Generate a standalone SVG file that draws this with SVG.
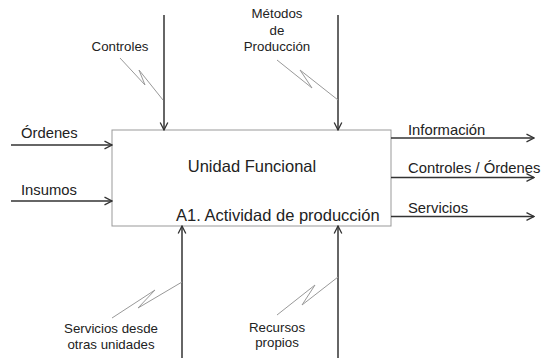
<svg xmlns="http://www.w3.org/2000/svg" width="545" height="361" viewBox="0 0 545 361">
<defs>
<marker id="arr" viewBox="0 0 10 10" refX="9" refY="5" markerWidth="10" markerHeight="10" markerUnits="userSpaceOnUse" orient="auto">
<path d="M1.5,1.2 L9,5 L1.5,8.8" fill="none" stroke="#333" stroke-width="1.3"/>
</marker>
</defs>
<style>
text{font-family:"Liberation Sans",Arial,sans-serif;fill:#222}
.lbl{font-size:13.3px}
.lbr{font-size:14.8px}
.big{font-size:16.5px}
.ar{stroke:#333;stroke-width:1.5;fill:none;marker-end:url(#arr)}
.sq{stroke:#999;stroke-width:1;fill:none}
</style>
<rect width="545" height="361" fill="#fff"/>
<g id="unidad">
<rect x="112" y="130" width="279" height="96" fill="#fff" stroke="#999" stroke-width="1"/>
<text class="big" x="252" y="172" text-anchor="middle">Unidad Funcional</text>
<text class="big" x="176" y="220.5">A1. Actividad de producción</text>
</g>
<g id="connectors">
<line class="ar" x1="164" y1="15" x2="164" y2="130"/>
<line class="ar" x1="338" y1="15" x2="338" y2="130"/>
<line class="ar" x1="11" y1="145" x2="112" y2="145"/>
<line class="ar" x1="11" y1="201" x2="112" y2="201"/>
<line class="ar" x1="391" y1="138" x2="534" y2="138"/>
<line class="ar" x1="391" y1="177.5" x2="534" y2="177.5"/>
<line class="ar" x1="391" y1="216.5" x2="534" y2="216.5"/>
<line class="ar" x1="182" y1="358" x2="182" y2="226"/>
<line class="ar" x1="338" y1="358" x2="338" y2="226"/>
<path class="sq" d="M120,58 L145,85 L139,70 L163,100"/>
<path class="sq" d="M277,60 L312,88 L300,70 L338,100"/>
<path class="sq" d="M112,318 L155,290 L138,308 L182,282"/>
<path class="sq" d="M277,315 L315,285 L302,305 L338,277"/>
</g>
<g id="controles"><text class="lbl" x="120" y="51" text-anchor="middle">Controles</text></g>
<g id="metodos">
<text class="lbl" x="277" y="18" text-anchor="middle">Métodos</text>
<text class="lbl" x="277" y="35" text-anchor="middle">de</text>
<text class="lbl" x="277" y="51" text-anchor="middle">Producción</text>
</g>
<g id="ordenes"><text class="lbr" x="21" y="138">Órdenes</text></g>
<g id="insumos"><text class="lbr" x="21" y="195">Insumos</text></g>
<g id="informacion"><text class="lbr" x="408" y="135">Información</text></g>
<g id="controles-ordenes"><text class="lbr" x="408" y="173">Controles / Órdenes</text></g>
<g id="servicios"><text class="lbr" x="408" y="213">Servicios</text></g>
<g id="servicios-desde">
<text class="lbl" x="111" y="333" text-anchor="middle">Servicios desde</text>
<text class="lbl" x="111" y="349" text-anchor="middle">otras unidades</text>
</g>
<g id="recursos">
<text class="lbl" x="277" y="332" text-anchor="middle">Recursos</text>
<text class="lbl" x="277" y="347" text-anchor="middle">propios</text>
</g>
</svg>
